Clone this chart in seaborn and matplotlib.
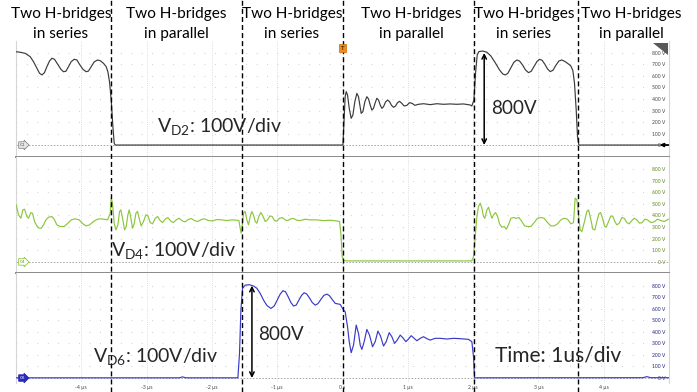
import matplotlib
matplotlib.use("Agg")
import matplotlib.pyplot as plt
import pandas as pd
import seaborn as sns
from matplotlib.patches import Polygon
from matplotlib.transforms import blended_transform_factory

# ---------------------------------------------------------------- data
# time in microseconds, voltage in volts
vd2_t = [-4.997, -4.936, -4.859, -4.783, -4.732, -4.680, -4.640, -4.603, -4.564, -4.527,
         -4.487, -4.450, -4.410, -4.364, -4.312, -4.273, -4.236, -4.196, -4.155, -4.109,
         -4.067, -4.028, -3.975, -3.925, -3.890, -3.848, -3.803, -3.752, -3.711, -3.660,
         -3.619, -3.593, -3.568, -3.542, -3.516, -3.496, -3.481, -1.500, 0.000,
         0.006, 0.026, 0.041, 0.057, 0.077, 0.103, 0.133, 0.159, 0.189, 0.220,
         0.245, 0.266, 0.286, 0.312, 0.343, 0.373, 0.399, 0.424, 0.450, 0.475,
         0.501, 0.526, 0.552, 0.577, 0.603, 0.628, 0.659, 0.690, 0.720, 0.751,
         0.781, 0.812, 0.843, 0.873, 0.909, 0.945, 0.986, 1.026, 1.067, 1.108,
         1.164, 1.241, 1.343, 1.445, 1.547, 1.649, 1.751, 1.853, 1.956,
         1.981, 2.012, 2.037, 2.063, 2.088, 2.150, 2.211, 2.272, 2.338, 2.405,
         2.456, 2.492, 2.532, 2.578, 2.624, 2.670, 2.711, 2.757, 2.803, 2.849,
         2.890, 2.931, 2.977, 3.017, 3.058, 3.099, 3.140, 3.181, 3.222, 3.268,
         3.313, 3.359, 3.410, 3.461, 3.497, 3.528, 3.553, 3.579, 3.599, 3.620, 5.000]
vd2_v = [811, 806, 797, 768, 724, 667, 624, 609, 629, 681,
         730, 754, 745, 704, 658, 637, 641, 681, 724, 745,
         739, 702, 658, 637, 643, 681, 722, 739, 733, 710,
         681, 637, 550, 391, 159, 15, 0, 0, 0,
         0, 246, 420, 464, 435, 319, 232, 261, 377, 449,
         420, 348, 275, 290, 377, 420, 400, 348, 304, 319,
         368, 406, 391, 348, 319, 333, 374, 391, 377, 345,
         328, 339, 368, 380, 362, 339, 345, 368, 362, 345,
         354, 359, 351, 359, 354, 357, 354, 357, 348,
         339, 391, 623, 783, 812, 817, 806, 774, 716, 652,
         617, 609, 623, 672, 719, 739, 730, 696, 652, 629,
         641, 681, 725, 745, 736, 702, 661, 638, 649, 693,
         730, 739, 725, 704, 687, 646, 536, 304, 72, 0, 0]

vd4_t = [-4.997, -4.961, -4.925, -4.895, -4.869, -4.834, -4.808, -4.772, -4.747, -4.716,
         -4.680, -4.645, -4.614, -4.578, -4.542, -4.502, -4.451, -4.415, -4.374, -4.323,
         -4.262, -4.205, -4.154, -4.093, -4.032, -3.976, -3.925, -3.874, -3.813, -3.752,
         -3.701, -3.650, -3.598, -3.557, -3.542, -3.522, -3.496, -3.470, -3.440, -3.414,
         -3.394, -3.368, -3.338, -3.312, -3.287, -3.266, -3.241, -3.215, -3.190, -3.164,
         -3.139, -3.108, -3.083, -3.047, -3.011, -2.981, -2.945, -2.909, -2.868, -2.832,
         -2.792, -2.756, -2.715, -2.675, -2.628, -2.588, -2.547, -2.501, -2.455, -2.409,
         -2.363, -2.317, -2.266, -2.215, -2.164, -2.113, -2.052, -1.990, -1.924, -1.848,
         -1.771, -1.694, -1.618, -1.587, -1.567, -1.552, -1.531, -1.516, -1.490, -1.465,
         -1.439, -1.414, -1.388, -1.363, -1.337, -1.311, -1.281, -1.250, -1.220, -1.184,
         -1.148, -1.112, -1.077, -1.041, -1.005, -0.964, -0.923, -0.877, -0.837, -0.791,
         -0.750, -0.699, -0.648, -0.572, -0.495, -0.393, -0.291, -0.189, -0.086, -0.045,
         -0.025, -0.005, 0.016, 0.118, 0.475, 1.496, 1.981,
         2.006, 2.032, 2.058, 2.083, 2.109, 2.134, 2.160, 2.180, 2.211, 2.236,
         2.262, 2.288, 2.313, 2.344, 2.375, 2.405, 2.440, 2.476, 2.507, 2.542,
         2.578, 2.619, 2.660, 2.701, 2.747, 2.788, 2.834, 2.885, 2.936, 2.987,
         3.038, 3.089, 3.140, 3.191, 3.242, 3.293, 3.344, 3.395, 3.446, 3.497,
         3.538, 3.563, 3.589, 3.614, 3.640, 3.666, 3.706, 3.742, 3.768, 3.804,
         3.834, 3.865, 3.895, 3.926, 3.952, 3.982, 4.013, 4.038, 4.074, 4.110,
         4.140, 4.171, 4.201, 4.237, 4.278, 4.314, 4.354, 4.390, 4.431, 4.467,
         4.508, 4.549, 4.589, 4.630, 4.671, 4.722, 4.773, 4.824, 4.875, 4.926, 4.993]
vd4_v = [491, 405, 376, 448, 454, 391, 376, 425, 419, 348,
         310, 290, 290, 319, 362, 385, 391, 368, 319, 305,
         305, 333, 362, 371, 362, 328, 310, 319, 348, 368,
         371, 368, 362, 419, 549, 506, 333, 276, 319, 434,
         448, 376, 276, 305, 405, 448, 376, 290, 328, 419,
         434, 362, 310, 348, 405, 399, 339, 328, 376, 391,
         356, 339, 368, 382, 351, 339, 362, 376, 353, 345,
         365, 374, 356, 348, 365, 371, 356, 353, 365, 362,
         356, 362, 359, 356, 290, 247, 333, 419, 434, 362,
         319, 391, 434, 405, 348, 333, 391, 425, 396, 348,
         362, 396, 391, 356, 351, 376, 382, 362, 356, 371,
         374, 359, 356, 368, 362, 362, 356, 359, 353, 348,
         247, 46, 11, 9, 9, 9, 9,
         46, 218, 391, 477, 506, 463, 391, 376, 448, 471,
         419, 376, 405, 425, 391, 328, 299, 305, 282, 319,
         376, 382, 376, 382, 348, 310, 305, 305, 339, 376,
         382, 376, 339, 310, 310, 328, 362, 376, 368, 328,
         339, 549, 534, 405, 276, 261, 348, 434, 448, 362,
         282, 276, 348, 414, 425, 376, 310, 299, 348, 396,
         391, 348, 319, 333, 382, 376, 339, 328, 356, 376,
         362, 333, 339, 368, 362, 339, 345, 368, 356, 348, 368]

vd6_t = [-4.997, -2.500, -2.450, -2.400, -1.602, -1.577, -1.556, -1.531, -1.490, -1.424,
         -1.362, -1.311, -1.260, -1.209, -1.158, -1.097, -1.046, -1.000, -0.954, -0.913,
         -0.873, -0.832, -0.791, -0.750, -0.709, -0.668, -0.627, -0.587, -0.546, -0.505,
         -0.464, -0.418, -0.377, -0.331, -0.285, -0.239, -0.199, -0.158, -0.112, -0.035,
         0.016, 0.041, 0.077, 0.103, 0.133, 0.169, 0.210, 0.245, 0.271, 0.297,
         0.332, 0.373, 0.414, 0.460, 0.501, 0.542, 0.582, 0.628, 0.669, 0.715,
         0.756, 0.797, 0.838, 0.884, 0.924, 0.970, 1.011, 1.052, 1.098, 1.139,
         1.190, 1.241, 1.292, 1.343, 1.420, 1.496, 1.598, 1.700, 1.802, 1.930,
         1.981, 2.006, 2.022, 4.600, 4.660, 4.720, 5.000]
vd6_v = [2, 2, 10, 2, 2, 214, 589, 777, 805, 808,
         797, 777, 733, 675, 629, 603, 624, 675, 727, 756,
         748, 704, 655, 624, 632, 675, 716, 739, 727, 693,
         655, 632, 644, 681, 716, 727, 713, 681, 647, 638,
         589, 574, 445, 315, 219, 286, 459, 387, 286, 248,
         315, 421, 372, 271, 315, 407, 364, 277, 315, 393,
         358, 300, 329, 372, 349, 315, 338, 367, 344, 323,
         344, 358, 341, 329, 344, 344, 338, 344, 341, 335,
         315, 185, 2, 3, 12, 3, 3]

channels = ["C1", "C4", "C6"]
trace_colors = ["#3b3b3b", "#8cc63e", "#3a3ac8"]
scale_colors = ["#4a4a4a", "#5e8c1f", "#25257f"]
volt_ticks = [0, 100, 200, 300, 400, 500, 600, 700, 800]
time_ticks = [-4, -3, -2, -1, 0, 1, 2, 3, 4]
time_labels = ["-4 µs", "-3 µs", "-2 µs", "-1 µs", "0 s", "1 µs", "2 µs", "3 µs", "4 µs"]

# switching instants (µs) separating the operating modes
switch_times = [-3.545, -1.54, 0.0, 2.02, 3.60]
mode_labels = [("Two H-bridges", "in series"), ("Two H-bridges", "in parallel"),
               ("Two H-bridges", "in series"), ("Two H-bridges", "in parallel"),
               ("Two H-bridges", "in series"), ("Two H-bridges", "in parallel")]
step_height = 800  # voltage step marked by the double arrows

# ---------------------------------------------------------------- style
sns.set_theme(style="white")
plt.rcParams["font.family"] = ["Lato", "DejaVu Sans"]
plt.rcParams["mathtext.fontset"] = "custom"
plt.rcParams["mathtext.rm"] = "Lato"
plt.rcParams["mathtext.it"] = "Lato:italic"
plt.rcParams["mathtext.bf"] = "Lato:bold"

W, H = 697, 392
fig = plt.figure(figsize=(W / 100, H / 100), dpi=100)
fig.patch.set_facecolor("white")


def fx(px):
    return px / W


def fy(py):
    return 1 - py / H


X0, X1 = 16, 669
panel_px = [(41, 157), (157, 273), (273, 383)]
panel_ylim = [(-104, 904), (-95, 903), (-43, 910)]
frames = [pd.DataFrame({"t": vd2_t, "v": vd2_v}),
          pd.DataFrame({"t": vd4_t, "v": vd4_v}),
          pd.DataFrame({"t": vd6_t, "v": vd6_v})]

axes = []
for i, ((top, bot), ylim, df) in enumerate(zip(panel_px, panel_ylim, frames)):
    ax = fig.add_axes([fx(X0), fy(bot), (X1 - X0) / W, (bot - top) / H])
    ax.set_xlim(-5, 5)
    ax.set_ylim(*ylim)

    # graticule: dotted major time lines and rows of dots every 100 V
    for tt in time_ticks:
        ax.axvline(tt, color="#d2d2d2", lw=0.6, ls=(0, (1, 1.6)), zorder=0)
    for vv in volt_ticks[1:]:
        ax.axhline(vv, color="#c8c8c8", lw=0.8, ls=(0, (0.7, 8.7)), zorder=0)
    ax.axhline(0, color="#a8a8a8", lw=0.7, ls=(0, (1.6, 1.6)), zorder=1)

    sns.lineplot(data=df, x="t", y="v", ax=ax, color=trace_colors[i],
                 linewidth=0.85, estimator=None, sort=False, zorder=3)
    ax.set_xlabel("")
    ax.set_ylabel("")

    for side in ["left", "right"]:
        ax.spines[side].set_color("#d6d6d6")
        ax.spines[side].set_linewidth(0.8)
    ax.spines["top"].set_visible(False)
    if i < 2:
        ax.spines["bottom"].set_color("#8a8a8a")
        ax.spines["bottom"].set_linewidth(1.4)
    else:
        ax.spines["bottom"].set_visible(False)

    # voltage scale drawn inside the right edge
    ax.yaxis.tick_right()
    ax.set_yticks(volt_ticks)
    ax.set_yticklabels([f"{v} V" for v in volt_ticks])
    ax.tick_params(axis="y", length=0, pad=-2.5, labelsize=3.6,
                   labelcolor=scale_colors[i])
    for lbl in ax.get_yticklabels():
        lbl.set_horizontalalignment("right")

    if i == 2:
        ax.set_xticks(time_ticks)
        ax.set_xticklabels(time_labels)
        ax.tick_params(axis="x", length=0, pad=1.2, labelsize=3.6, labelcolor="#444444")
    else:
        ax.set_xticks([])

    # channel marker on the 0 V level
    btr = blended_transform_factory(ax.transAxes, ax.transData)
    if i == 0:
        bbox = dict(boxstyle="rarrow,pad=0.28", fc="#e4e4e4", ec="#7a7a7a", lw=0.5)
        tc = "#555555"
    elif i == 1:
        bbox = dict(boxstyle="rarrow,pad=0.28", fc="white", ec="#8cc63e", lw=0.6)
        tc = "#6a9a2a"
    else:
        bbox = dict(boxstyle="rarrow,pad=0.28", fc="#2a2ab8", ec="#2a2ab8", lw=0.6)
        tc = "white"
    ax.text(0.006, 0, channels[i], transform=btr, fontsize=3.2, color=tc,
            ha="left", va="center", bbox=bbox, zorder=5)
    axes.append(ax)

# 0 V level pointer on the right of the first channel
axes[0].annotate("", xy=(4.86, 0), xytext=(4.99, 0),
                 arrowprops=dict(arrowstyle="-|>", color="black", lw=1.2,
                                 shrinkA=0, shrinkB=0, mutation_scale=5), zorder=6)

# double arrows marking the 800 V step
axes[0].annotate("", xy=(2.17, step_height), xytext=(2.17, 0),
                 arrowprops=dict(arrowstyle="<->", color="black", lw=1.1,
                                 shrinkA=0, shrinkB=0, mutation_scale=8), zorder=6)
axes[2].annotate("", xy=(-1.387, step_height), xytext=(-1.387, 0),
                 arrowprops=dict(arrowstyle="<->", color="black", lw=1.1,
                                 shrinkA=0, shrinkB=0, mutation_scale=8), zorder=6)

# overlay spanning the full height for the mode boundaries
ov = fig.add_axes([fx(X0), 0, (X1 - X0) / W, 1])
ov.set_xlim(-5, 5)
ov.set_ylim(0, 1)
ov.axis("off")
ov.patch.set_visible(False)
for st in switch_times:
    ov.axvline(st, color="black", lw=1.0, ls=(0, (3.6, 2.2)), zorder=4)

# trigger marker and scope badge
fig.text(fx(342.5), fy(48), "T", fontsize=4.2, color="#3a2a10", ha="center", va="center",
         fontweight="bold",
         bbox=dict(boxstyle="square,pad=0.25", fc="#f08c1e", ec="#c86a00", lw=0.5))
fig.patches.append(Polygon([(fx(653), fy(43)), (fx(668), fy(43)), (fx(668), fy(55))],
                           closed=True, transform=fig.transFigure, fc="#585858", ec="none"))

renderer = fig.canvas.get_renderer()


def fitted_text(x_px, y_px, s, width_px, fontsize, **kw):
    t = fig.text(fx(x_px), fy(y_px), s, fontsize=fontsize, **kw)
    w = t.get_window_extent(renderer=renderer).width
    t.set_fontsize(fontsize * width_px / w)
    return t


# mode labels along the top
mode_centers = [61, 176, 292, 411, 524, 631]
probe = fitted_text(-500, 18, "Two H-bridges", 101, 11, ha="center", va="baseline")
mode_fs = probe.get_fontsize()
probe.remove()
for (l1, l2), cx in zip(mode_labels, mode_centers):
    fig.text(fx(cx), fy(18), l1, fontsize=mode_fs, ha="center", va="baseline", color="black")
    fig.text(fx(cx), fy(38), l2, fontsize=mode_fs, ha="center", va="baseline", color="black")

# scale annotations
probe = fitted_text(-500, 100, r"V$_{\mathrm{D2}}$: 100V/div", 126, 14, ha="left", va="baseline")
scale_fs = probe.get_fontsize()
probe.remove()
fig.text(fx(157), fy(132), r"V$_{\mathrm{D2}}$: 100V/div", fontsize=scale_fs, ha="left", va="baseline")
fig.text(fx(111), fy(256), r"V$_{\mathrm{D4}}$: 100V/div", fontsize=scale_fs, ha="left", va="baseline")
fig.text(fx(93), fy(362), r"V$_{\mathrm{D6}}$: 100V/div", fontsize=scale_fs, ha="left", va="baseline")
fitted_text(495, 362, "Time: 1us/div", 127, 14, ha="left", va="baseline")
fitted_text(491.5, 114, f"{step_height}V", 46, 14, ha="left", va="baseline")
fitted_text(258.3, 339.5, f"{step_height}V", 46, 14, ha="left", va="baseline")

fig.savefig("out.png", dpi=100, facecolor="white")
